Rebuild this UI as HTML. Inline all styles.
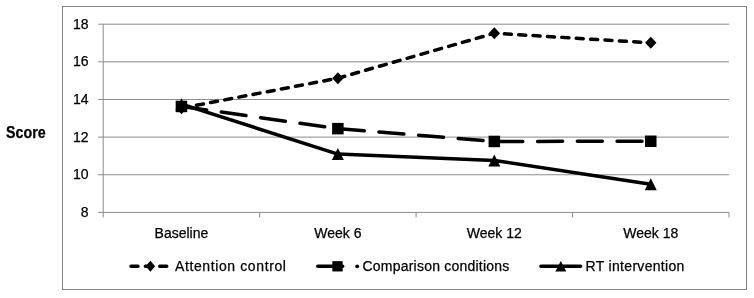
<!DOCTYPE html>
<html><head><meta charset="utf-8"><style>
html,body{margin:0;padding:0;background:#fff;width:754px;height:298px;overflow:hidden}
svg{display:block;will-change:transform}
text{font-family:"Liberation Sans", sans-serif;fill:#000;stroke:#000;stroke-width:0.25px}
</style></head><body>
<svg width="754" height="298" viewBox="0 0 754 298">
<rect x="62.5" y="6.5" width="684" height="283" fill="#fff" stroke="#868686" stroke-width="1"/>
<line x1="98" y1="212.40" x2="729.00" y2="212.40" stroke="#8c8c8c" stroke-width="1"/>
<line x1="98" y1="174.76" x2="729.00" y2="174.76" stroke="#8c8c8c" stroke-width="1"/>
<line x1="98" y1="137.12" x2="729.00" y2="137.12" stroke="#8c8c8c" stroke-width="1"/>
<line x1="98" y1="99.48" x2="729.00" y2="99.48" stroke="#8c8c8c" stroke-width="1"/>
<line x1="98" y1="61.84" x2="729.00" y2="61.84" stroke="#8c8c8c" stroke-width="1"/>
<line x1="98" y1="24.20" x2="729.00" y2="24.20" stroke="#8c8c8c" stroke-width="1"/>
<line x1="103.20" y1="24.20" x2="103.20" y2="217.5" stroke="#8c8c8c" stroke-width="1"/>
<line x1="259.65" y1="212.40" x2="259.65" y2="217.5" stroke="#8c8c8c" stroke-width="1"/>
<line x1="416.10" y1="212.40" x2="416.10" y2="217.5" stroke="#8c8c8c" stroke-width="1"/>
<line x1="572.55" y1="212.40" x2="572.55" y2="217.5" stroke="#8c8c8c" stroke-width="1"/>
<line x1="729.00" y1="212.40" x2="729.00" y2="217.5" stroke="#8c8c8c" stroke-width="1"/>
<text x="88.5" y="216.80" text-anchor="end" font-size="14">8</text>
<text x="88.5" y="179.16" text-anchor="end" font-size="14">10</text>
<text x="88.5" y="141.52" text-anchor="end" font-size="14">12</text>
<text x="88.5" y="103.88" text-anchor="end" font-size="14">14</text>
<text x="88.5" y="66.24" text-anchor="end" font-size="14">16</text>
<text x="88.5" y="28.60" text-anchor="end" font-size="14">18</text>
<text x="181.43" y="237.6" text-anchor="middle" font-size="14">Baseline</text>
<text x="337.88" y="237.6" text-anchor="middle" font-size="14">Week 6</text>
<text x="494.32" y="237.6" text-anchor="middle" font-size="14">Week 12</text>
<text x="650.77" y="237.6" text-anchor="middle" font-size="14">Week 18</text>
<polyline points="181.43,108.14 337.88,78.21 494.32,33.23 650.77,42.83" fill="none" stroke="#000" stroke-width="3.5" stroke-dasharray="7.05 7.35" stroke-dashoffset="-0.9" stroke-linecap="round" stroke-linejoin="round"/>
<polyline points="181.43,106.44 337.88,128.65 494.32,141.45 650.77,141.26" fill="none" stroke="#000" stroke-width="3.5" stroke-dasharray="24.95 14.8" stroke-dashoffset="-0.5" stroke-linecap="round" stroke-linejoin="round"/>
<polyline points="181.43,104.19 337.88,154.06 494.32,160.46 650.77,184.17" fill="none" stroke="#000" stroke-width="3.5" stroke-linecap="round" stroke-linejoin="round"/>
<path d="M181.43,102.14 L187.12,108.14 L181.43,114.14 L175.73,108.14 Z" fill="#000"/>
<path d="M337.88,72.21 L343.57,78.21 L337.88,84.21 L332.18,78.21 Z" fill="#000"/>
<path d="M494.32,27.23 L500.02,33.23 L494.32,39.23 L488.62,33.23 Z" fill="#000"/>
<path d="M650.77,36.83 L656.48,42.83 L650.77,48.83 L645.07,42.83 Z" fill="#000"/>
<rect x="175.68" y="100.69" width="11.5" height="11.5" fill="#000"/>
<rect x="332.12" y="122.90" width="11.5" height="11.5" fill="#000"/>
<rect x="488.57" y="135.70" width="11.5" height="11.5" fill="#000"/>
<rect x="645.02" y="135.51" width="11.5" height="11.5" fill="#000"/>
<path d="M181.43,98.19 L187.43,110.19 L175.43,110.19 Z" fill="#000"/>
<path d="M337.88,148.06 L343.88,160.06 L331.88,160.06 Z" fill="#000"/>
<path d="M494.32,154.46 L500.32,166.46 L488.32,166.46 Z" fill="#000"/>
<path d="M650.77,178.17 L656.77,190.17 L644.77,190.17 Z" fill="#000"/>
<line x1="131" y1="266.3" x2="167" y2="266.3" stroke="#000" stroke-width="3.5" stroke-dasharray="7 7.36" stroke-linecap="round"/>
<path d="M150.40,260.80 L155.15,266.30 L150.40,271.80 L145.65,266.30 Z" fill="#000"/>
<line x1="317.8" y1="266.3" x2="357" y2="266.3" stroke="#000" stroke-width="3.5" stroke-dasharray="24.8 14.8" stroke-linecap="round"/>
<rect x="332.35" y="261.15" width="10.3" height="10.3" fill="#000"/>
<circle cx="357.2" cy="266.3" r="1.9" fill="#000"/>
<line x1="541" y1="266.3" x2="580.5" y2="266.3" stroke="#000" stroke-width="3.5" stroke-linecap="round"/>
<path d="M560.80,261.05 L566.30,271.55 L555.30,271.55 Z" fill="#000"/>
<text x="175" y="271" font-size="14" letter-spacing="0.61">Attention control</text>
<text x="362.5" y="271" font-size="14" letter-spacing="0.22">Comparison conditions</text>
<text x="585.6" y="271" font-size="14" letter-spacing="0.31">RT intervention</text>
<text x="6" y="137.7" font-size="15.8" font-weight="bold" textLength="39.6" lengthAdjust="spacingAndGlyphs">Score</text>
</svg>
</body></html>
